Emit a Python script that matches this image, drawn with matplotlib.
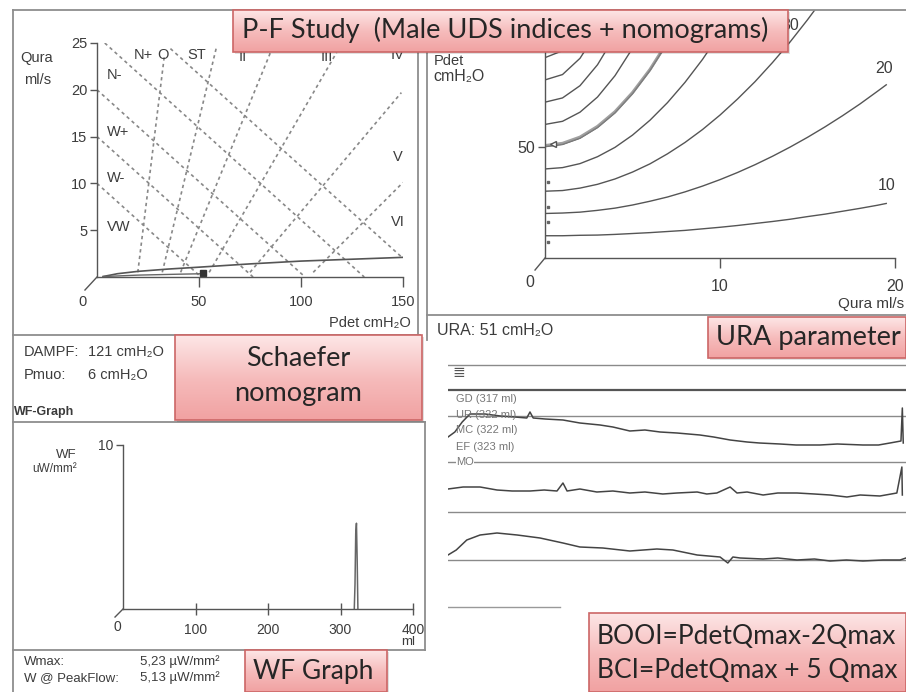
import numpy as np
import matplotlib
matplotlib.use('Agg')
import matplotlib.pyplot as plt
from matplotlib.patches import Rectangle
from matplotlib.colors import LinearSegmentedColormap
from matplotlib import font_manager

# ---------------- data ----------------
# Schaefer nomogram (Pdet cmH2O on x, Qura ml/s on y)
schaefer_xticks = [50, 100, 150]
schaefer_yticks = [5, 10, 15, 20, 25]
# contractility boundaries (down-right dashed lines): endpoints
contr_p = [[0, 51], [0, 76.5], [0, 102], [3.8, 131], [36, 150]]
contr_q = [[10, 0], [15, 0], [20, 0], [25, 0], [24.4, 2.0]]
# obstruction grade boundaries (up-right dashed lines): endpoints
obstr_p = [[20, 33], [32, 58.5], [41, 86], [55, 117.5], [75, 149.2], [106, 150]]
obstr_q = [[0.5, 23.6], [0.5, 24.5], [0.5, 24.5], [0.5, 24.0], [0.5, 19.7], [0.5, 10.1]]
zone_labels = ['N-', 'W+', 'W-', 'VW', 'N+', 'O', 'ST', 'II', 'III', 'IV', 'V', 'VI']
zone_p = [5, 5, 5, 5, 22.5, 32.4, 49, 71.6, 112.7, 147.5, 147.5, 147.5]
zone_q = [21.6, 15.5, 10.6, 5.3, 23.7, 23.7, 23.7, 23.5, 23.5, 23.7, 12.8, 5.9]
zone_ha = ['left', 'left', 'left', 'left', 'center', 'center', 'center',
           'center', 'center', 'center', 'center', 'center']
pf_p = [3, 10, 20, 35, 50, 75, 100, 125, 150]
pf_q = [0.05, 0.35, 0.6, 0.85, 1.05, 1.4, 1.7, 1.9, 2.1]
pf2_p = [3, 20, 40, 52]
pf2_q = [0.05, 0.2, 0.3, 0.35]
pf_point = (52, 0.4)

# URA nomogram (Qura ml/s on x, Pdet cmH2O on y)
ura_xticks = [10, 20]
ura_yticks = [50]
ura_q_full = [0, 1, 2, 3, 4, 5, 6, 7, 8, 9, 10, 11, 12, 13, 14, 15, 16, 17, 18, 19, 19.5]
ura_p10 = [10.0, 10.0, 10.2, 10.3, 10.6, 11.0, 11.4, 11.9, 12.4, 13.1, 13.8,
           14.6, 15.5, 16.4, 17.4, 18.6, 19.7, 21.0, 22.3, 23.7, 24.5]
ura_p20 = [20.0, 20.2, 20.6, 21.4, 22.4, 23.8, 25.5, 27.4, 29.7, 32.3, 35.2,
           38.4, 41.9, 45.7, 49.8, 54.2, 58.9, 63.9, 69.2, 74.9, 77.8]
ura_p30 = [30.0, 30.3, 31.4, 33.1, 35.5, 38.6, 42.3, 46.8, 51.9, 57.7, 64.2,
           71.4, 79.2, 87.8, 97.0, 107.0, 117.6]
ura_p40 = [40.0, 40.6, 42.4, 45.5, 49.7, 55.2, 61.9, 69.8, 78.9, 89.2, 100.8, 113.6]
ura_p50 = [50.0, 51.0, 53.8, 58.6, 65.2, 73.8, 84.2, 96.6, 110.8, 127.0]
ura_p60 = [60.0, 61.4, 65.5, 72.3, 81.9, 94.2, 109.2, 127.0]
ura_p70 = [70.0, 71.9, 77.4, 86.8, 99.8, 116.6]
ura_p80 = [80.0, 82.4, 89.7, 101.9, 118.9]
ura_p90 = [90.0, 93.1, 102.3, 117.7]
ura_p100 = [100.0, 103.8, 115.2]
ura_curves = [ura_p10, ura_p20, ura_p30, ura_p40, ura_p50,
              ura_p60, ura_p70, ura_p80, ura_p90, ura_p100]
ura_curve_labels = ['10', '20', '30']
ura_label_q = [19.5, 19.4, 14.0]
ura_label_p = [29.2, 81.8, 101]
ura_patient = 51
ura_dots = [7, 16, 23, 34]

# WF graph
wf_xticks = [100, 200, 300, 400]
wf_yticks = [10]
wf_vol = [319, 320, 321, 322, 323, 324]
wf_val = [0.0, 1.5, 4.6, 5.23, 3.0, 0.0]

# Uroflow / pressure traces (x: % of void, y: arbitrary stacked units)
tr1_x = [0, 1.5, 3.1, 4.8, 8.1, 11.4, 14.6, 17.2, 17.9, 18.6, 21.2, 25.1, 28.8,
         33.2, 36.0, 39.7, 43.0, 46.3, 50.0, 55.0, 58.0, 61.6, 65.3, 68.0, 72.5,
         76.0, 81.2, 85.0, 90.6, 94.0, 96.5, 98.9, 99.2, 99.4]
tr1_y = [178, 183, 193, 201, 201, 199, 198, 197, 203, 197, 196, 195, 192,
         190, 188, 184, 185, 183, 182, 180, 178, 175, 173, 172, 171,
         170, 170, 171, 170, 170, 172, 174, 207, 172]
tr2_x = [0, 3.3, 7.0, 10.7, 14.0, 17.9, 21.0, 23.8, 25.1, 26.0, 28.8, 32.5, 36.0,
         39.7, 43.0, 46.9, 50.0, 54.4, 56.5, 58.7, 61.6, 63.1, 65.3, 68.8, 72.0,
         76.2, 80.0, 83.4, 87.1, 90.0, 94.3, 98.0, 99.1, 99.2]
tr2_y = [126, 128, 128, 125, 124, 124, 125, 124, 132, 124, 126, 123, 124,
         122, 123, 121, 122, 123, 121, 122, 128, 122, 123, 120, 122,
         122, 121, 120, 118, 120, 119, 122, 148, 120]
tr3_x = [0, 1.8, 4.1, 7.0, 10.7, 15.1, 20.1, 25.1, 28.8, 33.8, 39.7, 45.6,
         49.1, 54.4, 59.4, 61.1, 62.2, 63.8, 68.8, 72.0, 76.2, 80.0, 83.4,
         87.0, 90.6, 95.0, 98.7, 100]
tr3_y = [60, 65, 75, 80, 82, 80, 77, 72, 68, 67, 64, 66,
         65, 60, 58, 52, 58, 57, 56, 57, 55, 56, 54,
         55, 54, 55, 55, 57]
trace_baselines = [250, 225, 199, 153, 103, 55]
trace_labels = ['GD (317 ml)', 'UR (322 ml)', 'MC (322 ml)', 'EF (323 ml)', 'MO']

# ---------------- figure ----------------
W, H = 906, 692
fig = plt.figure(figsize=(9.06, 6.92), dpi=100)
fig.patch.set_facecolor('white')

names = {f.name for f in font_manager.fontManager.ttflist}
NARROW = 'Liberation Sans Narrow' if 'Liberation Sans Narrow' in names else 'Liberation Sans'
plt.rcParams['font.family'] = [NARROW, 'DejaVu Sans']
BOXF = ['Lato', 'DejaVu Sans']
TXT = '#3c3c3c'
AX = '#555555'


def R(x0, y0, x1, y1):
    return [x0 / W, 1 - y1 / H, (x1 - x0) / W, (y1 - y0) / H]


def style(ax, size):
    for s in ['top', 'right']:
        ax.spines[s].set_visible(False)
    for s in ['left', 'bottom']:
        ax.spines[s].set_color(AX)
        ax.spines[s].set_linewidth(1.0)
    ax.set_facecolor('none')
    ax.tick_params(colors=AX, labelcolor=TXT, labelsize=size, width=1)


# Schaefer nomogram
axS = fig.add_axes(R(97, 43, 403, 277))
style(axS, 10.5)
axS.set_xlim(0, 150)
axS.set_ylim(0, 25)
for p, q in zip(contr_p, contr_q):
    axS.plot(p, q, ls=(0, (2, 2)), color='#888888', lw=1.2)
for p, q in zip(obstr_p, obstr_q):
    axS.plot(p, q, ls=(0, (2, 2)), color='#888888', lw=1.2)
axS.plot(pf_p, pf_q, color='#555', lw=1.2)
axS.plot(pf2_p, pf2_q, color='#666', lw=1.0)
axS.plot([pf_point[0]], [pf_point[1]], 's', color='#333', ms=4)
for lab, p, q, ha in zip(zone_labels, zone_p, zone_q, zone_ha):
    axS.text(p, q, lab, ha=ha, va='center', fontsize=10.5, color=TXT, clip_on=False)
axS.set_xticks(schaefer_xticks)
axS.set_yticks(schaefer_yticks)
axS.tick_params(axis='x', direction='out', length=7, pad=6)
axS.tick_params(axis='y', direction='out', length=5, pad=2)
axS.plot([0, -5.9], [0, -1.39], color=AX, lw=1, clip_on=False)
axS.text(-6.9, -2.67, '0', ha='center', va='center', fontsize=10.5, color=TXT)

# URA nomogram
axU = fig.add_axes(R(545, 10, 895, 258))
style(axU, 11.5)
axU.set_xlim(0, 20)
axU.set_ylim(0, 111.4)
for curve in ura_curves:
    axU.plot(ura_q_full[:len(curve)], curve, color='#555', lw=1.0)
axU.plot(ura_q_full[:len(ura_p50)], [v + (ura_patient - 50) * 0.5 for v in ura_p50],
         color='#888', lw=2.2, alpha=0.8)
axU.plot([0.15] * len(ura_dots), ura_dots, 's', color='#666', ms=2)
axU.plot([0.45], [ura_patient], marker='<', color='#555', ms=5, mfc='white')
for lab, q, p in zip(ura_curve_labels, ura_label_q, ura_label_p):
    axU.text(q, p, lab, ha='center', va='bottom', fontsize=11.5, color=TXT, clip_on=False)
axU.set_xticks(ura_xticks)
axU.set_yticks(ura_yticks)
axU.tick_params(axis='x', direction='out', length=7, pad=8)
axU.tick_params(axis='y', direction='out', length=5, pad=2)
axU.plot([0, -0.57], [0, -5.4], color=AX, lw=1, clip_on=False)
axU.text(-0.86, -11.2, '0', ha='center', va='center', fontsize=11.5, color=TXT)

# WF graph
axW = fig.add_axes(R(123, 445, 413, 609))
style(axW, 10)
axW.set_xlim(0, 400)
axW.set_ylim(0, 10)
axW.plot(wf_vol, wf_val, color='#666', lw=1.1)
axW.set_xticks(wf_xticks)
axW.set_yticks(wf_yticks)
axW.tick_params(axis='x', direction='inout', length=8, pad=6)
axW.tick_params(axis='y', direction='out', length=5, pad=2)
axW.plot([0, -11], [0, -0.49], color=AX, lw=1, clip_on=False)
axW.text(-8.3, -1.1, '0', ha='center', va='center', fontsize=10, color=TXT)

# traces
axT = fig.add_axes(R(448, 355, 906, 615))
axT.set_xlim(0, 100)
axT.set_ylim(0, 260)
axT.axis('off')
for i, b in enumerate(trace_baselines):
    axT.axhline(b, color='#555' if i == 1 else '#8a8a8a', lw=1.6 if i == 1 else 1.0)
axT.plot([0, 24.5], [8, 8], color='#999', lw=1.0)
axT.plot(tr1_x, tr1_y, color='#444', lw=1.1)
axT.plot(tr2_x, tr2_y, color='#444', lw=1.1)
axT.plot(tr3_x, tr3_y, color='#444', lw=1.1)

# overlay (frames, texts, callout boxes) in pixel coordinates
ov = fig.add_axes([0, 0, 1, 1], zorder=10)
ov.axis('off')
ov.patch.set_alpha(0)
FR = '#8d8d8d'
frames = [((13, 906), (10, 10)), ((13, 13), (10, 692)), ((418, 418), (10, 335)),
          ((427, 427), (10, 340)), ((13, 420), (335, 335)), ((427, 906), (315, 315)),
          ((13, 425), (422, 422)), ((425, 425), (422, 650)), ((13, 425), (650, 650))]
for xs, ys in frames:
    ov.plot(xs, ys, color=FR, lw=1.3, zorder=1)

small = dict(color=TXT, va='center', zorder=2)
ov.text(37, 58, 'Qura', ha='center', fontsize=10.5, **small)
ov.text(38, 80, 'ml/s', ha='center', fontsize=10.5, **small)
ov.text(411, 323, 'Pdet cmH\u2082O', ha='right', fontsize=10.5, **small)
ov.text(434, 61, 'Pdet', ha='left', fontsize=10.5, **small)
ov.text(433, 76, 'cmH\u2082O', ha='left', fontsize=11.5, **small)
ov.text(904, 304, 'Qura ml/s', ha='right', fontsize=11, **small)
ov.text(437, 330, 'URA: 51 cmH\u2082O', ha='left', fontsize=11.5, **small)
ov.text(24, 352, 'DAMPF:', ha='left', fontsize=10.5, **small)
ov.text(88, 352, '121 cmH\u2082O', ha='left', fontsize=10.5, **small)
ov.text(24, 375, 'Pmuo:', ha='left', fontsize=10.5, **small)
ov.text(88, 375, '6 cmH\u2082O', ha='left', fontsize=10.5, **small)
ov.text(14, 412, 'WF-Graph', ha='left', fontsize=9, fontweight='bold', **small)
ov.text(77, 455, 'WF', ha='right', fontsize=9.5, **small)
ov.text(77, 469, 'uW/mm\u00b2', ha='right', fontsize=8.5, **small)
ov.text(408, 642, 'ml', ha='center', fontsize=9.5, **small)
ov.text(24, 662, 'Wmax:', ha='left', fontsize=9.5, **small)
ov.text(140, 662, '5,23 \u00b5W/mm\u00b2', ha='left', fontsize=9.5, **small)
ov.text(24, 678, 'W @ PeakFlow:', ha='left', fontsize=9.5, **small)
ov.text(140, 678, '5,13 \u00b5W/mm\u00b2', ha='left', fontsize=9.5, **small)
label_y = [399, 415, 430, 447, 462]
for lab, yy in zip(trace_labels, label_y):
    ov.text(456, yy, lab, ha='left', va='center', fontsize=8, color='#777', zorder=2,
            bbox=dict(fc='white', ec='none', pad=0.3) if lab == 'MO' else None)
ov.text(452, 373, '\u2263', ha='left', va='center', fontsize=11, color='#555', zorder=2)

pink = LinearSegmentedColormap.from_list('pink', ['#fde6e6', '#f6bcbc', '#f1a2a2'])
grad = np.linspace(0, 1, 64).reshape(-1, 1)


def callout(x0, y0, x1, y1):
    ov.add_patch(Rectangle((x0 + 2, y0 + 2), x1 - x0, y1 - y0, fc='#000', alpha=0.12,
                           ec='none', zorder=4))
    ov.imshow(grad, extent=(x0, x1, y1, y0), cmap=pink, aspect='auto',
              origin='upper', zorder=5, interpolation='bilinear')
    ov.add_patch(Rectangle((x0, y0), x1 - x0, y1 - y0, fill=False, ec='#cc6666',
                           lw=1.2, zorder=6))


BT = dict(color='#262626', va='center', family=BOXF, zorder=7)
callout(233, 10, 788, 52)
ov.text(242, 30, 'P-F Study  (Male UDS indices + nomograms)', ha='left', fontsize=19.5, **BT)
callout(175, 335, 422, 420)
ov.text(298, 358, 'Schaefer', ha='center', fontsize=19.5, **BT)
ov.text(298, 394, 'nomogram', ha='center', fontsize=19.5, **BT)
callout(708, 317, 906, 358)
ov.text(716, 338, 'URA parameter', ha='left', fontsize=19.5, **BT)
callout(245, 650, 387, 692)
ov.text(253, 671, 'WF Graph', ha='left', fontsize=19, **BT)
callout(589, 613, 906, 692)
ov.text(597, 637, 'BOOI=PdetQmax-2Qmax', ha='left', fontsize=19, **BT)
ov.text(597, 671, 'BCI=PdetQmax + 5 Qmax', ha='left', fontsize=19, **BT)

ov.set_xlim(0, W)
ov.set_ylim(H, 0)

fig.savefig('out.png', dpi=100, facecolor='white')
